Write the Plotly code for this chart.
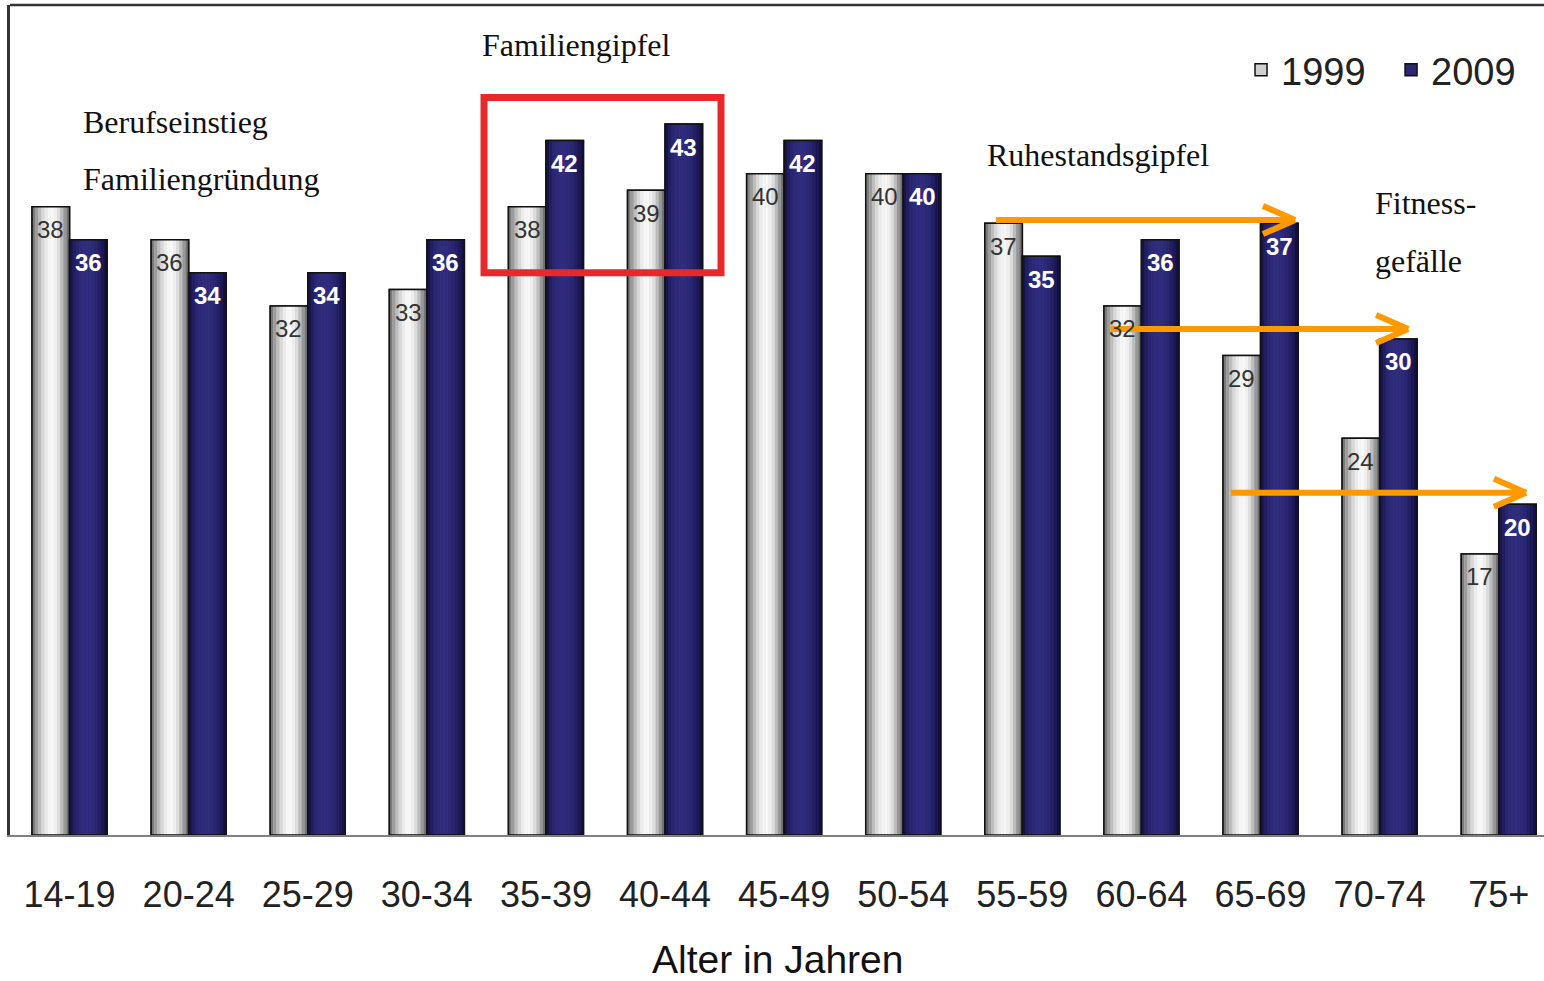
import plotly.graph_objects as go

# Age groups and share values (%) for the two survey years
age_groups = ["14-19", "20-24", "25-29", "30-34", "35-39", "40-44", "45-49",
              "50-54", "55-59", "60-64", "65-69", "70-74", "75+"]
values_1999 = [38, 36, 32, 33, 38, 39, 40, 40, 37, 32, 29, 24, 17]
values_2009 = [36, 34, 34, 36, 42, 43, 42, 40, 35, 36, 37, 30, 20]

FIG_W, FIG_H = 1544, 981
MARGIN = dict(l=10, r=0, t=5, b=146)
X_RANGE = [-0.5, 12.38]
Y_RANGE = [0, 50.2]
BAR_W = 0.315  # width of one bar in category units

# pixel width of one category, used to centre value labels over each bar
px_per_cat = (FIG_W - MARGIN["l"] - MARGIN["r"]) / (X_RANGE[1] - X_RANGE[0])
label_shift = BAR_W / 2 * px_per_cat

# Colour stripes (left -> right) that give each bar a rounded, cylindrical look
silver_shades = ["#7a7a7a", "#9c9c9c", "#bdbdbd", "#d8d8d8", "#ebebeb", "#f6f6f6",
                 "#f8f8f8", "#efefef", "#dcdcdc", "#bcbcbc", "#979797", "#727272"]
navy_shades = ["#181448", "#221e62", "#29266f", "#2d2a78", "#2f2c7c", "#302d7e",
               "#2f2c7c", "#2c2976", "#29266f", "#231f64", "#1c1854", "#141044"]

fig = go.Figure()
annotations = []


def add_series(name, vals, offset, base_color, shades, text_font, xshift):
    n = len(age_groups)
    # solid base bar, also used for the legend entry
    fig.add_trace(go.Bar(
        x=age_groups, y=vals, name=name, offset=[offset] * n, width=[BAR_W] * n,
        marker=dict(color=base_color, line=dict(color="#111111", width=1.5)),
        hoverinfo="skip",
    ))
    # shading stripes
    sw = BAR_W / len(shades)
    for i, c in enumerate(shades):
        fig.add_trace(go.Bar(
            x=age_groups, y=vals, offset=[offset + i * sw] * n, width=[sw * 1.02] * n,
            marker=dict(color=c, line=dict(width=0)), showlegend=False,
            hoverinfo="skip",
        ))
    # outline on top
    fig.add_trace(go.Bar(
        x=age_groups, y=vals, offset=[offset] * n, width=[BAR_W] * n,
        marker=dict(color="rgba(0,0,0,0)", line=dict(color="#111111", width=1.5)),
        showlegend=False, name=name,
        hovertemplate="%{x}: %{y}<extra>" + name + "</extra>",
    ))
    # value labels just inside the top of each bar
    for cat, v in zip(age_groups, vals):
        annotations.append(dict(x=cat, y=v, xref="x", yref="y", text=str(v),
                                showarrow=False, xshift=xshift, yshift=-23,
                                xanchor="center", yanchor="middle", font=text_font))


add_series("1999", values_1999, -BAR_W, "#cfcfcf", silver_shades,
           dict(family="Liberation Sans", size=24, color="#333333"), -label_shift)
add_series("2009", values_2009, 0.0, "#2b2873", navy_shades,
           dict(family="Liberation Sans", size=24, color="#ffffff", weight="bold"),
           label_shift)

serif = dict(family="Liberation Serif", size=32, color="#111111")
notes = [
    ("Berufseinstieg", 0.10, 43.15),
    ("Familiengründung", 0.10, 39.7),
    ("Familiengipfel", 3.45, 47.8),
    ("Ruhestandsgipfel", 7.69, 41.15),
    ("Fitness-", 10.94, 38.2),
    ("gefälle", 10.94, 34.7),
]
for txt, ax, ay in notes:
    annotations.append(dict(x=ax, y=ay, xref="x", yref="y", text=txt, showarrow=False,
                            xanchor="left", yanchor="middle", font=serif))

# x-axis title below the tick labels
annotations.append(dict(x=0.5, y=-0.1506, xref="paper", yref="paper",
                        text="Alter in Jahren", showarrow=False,
                        xanchor="center", yanchor="middle",
                        font=dict(family="Liberation Sans", size=39, color="#111111")))

shapes = []
# highlight box around the family peak
shapes.append(dict(type="rect", xref="x", yref="y", x0=3.48, x1=5.47, y0=34.0, y1=44.6,
                   line=dict(color="#e8282b", width=7), fillcolor="rgba(0,0,0,0)"))
# orange shift arrows with open heads
orange = "#ff9900"
for x0, x1, yy in [(7.78, 10.29, 37.2), (8.74, 11.24, 30.6), (9.75, 12.23, 20.7)]:
    shapes.append(dict(type="line", xref="x", yref="y", x0=x0, x1=x1 - 0.02, y0=yy, y1=yy,
                       line=dict(color=orange, width=6)))
    for dy in (0.85, -0.85):
        shapes.append(dict(type="line", xref="x", yref="y", x0=x1 - 0.27, y0=yy + dy,
                           x1=x1, y1=yy, line=dict(color=orange, width=6)))
# top frame line
shapes.append(dict(type="line", xref="paper", yref="paper", x0=0, x1=1, y0=1, y1=1,
                   line=dict(color="#333333", width=2.5)))

fig.update_layout(
    width=FIG_W, height=FIG_H,
    margin=MARGIN,
    paper_bgcolor="white", plot_bgcolor="white",
    barmode="overlay",
    shapes=shapes,
    annotations=annotations,
    showlegend=True,
    legend=dict(orientation="h", x=0.8025, xanchor="left", y=0.9216, yanchor="middle",
                entrywidth=105, entrywidthmode="pixels",
                font=dict(family="Liberation Sans", size=38, color="#222222"),
                bgcolor="rgba(0,0,0,0)", traceorder="normal"),
    xaxis=dict(type="category", categoryorder="array", categoryarray=age_groups,
               range=X_RANGE, showline=True, linecolor="#808080", linewidth=2,
               ticks="outside", ticklen=27, tickcolor="rgba(0,0,0,0)",
               tickfont=dict(family="Liberation Sans", size=36, color="#222222"),
               showgrid=False, zeroline=False, automargin=False),
    yaxis=dict(range=Y_RANGE, showline=True, linecolor="#333333", linewidth=2.5,
               showticklabels=False, ticks="", showgrid=False, zeroline=False,
               automargin=False),
)

fig.write_html("out.html")
